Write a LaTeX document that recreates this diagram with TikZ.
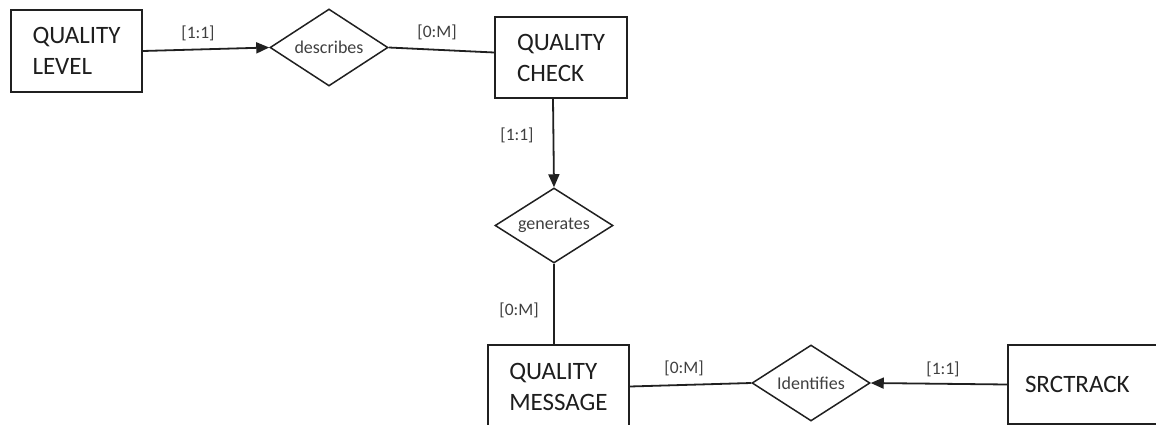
\documentclass[tikz,border=0pt]{standalone}
\usepackage{fontspec}
\setmainfont{Carlito}
\usetikzlibrary{shapes.geometric,arrows.meta}
\definecolor{entitytext}{HTML}{1E1E1E}
\definecolor{labeltext}{HTML}{404040}
\definecolor{linecol}{HTML}{202020}
\tikzset{
  entity/.style={draw=linecol, line width=1.8pt, rectangle, align=left, inner sep=0pt,
    text=entitytext, font=\fontsize{25}{31}\selectfont},
  relation/.style={draw=linecol, line width=1.5pt, diamond, aspect=1.6, inner sep=0pt,
    minimum width=118pt, minimum height=76pt, text=entitytext!85, font=\fontsize{18}{20}\selectfont},
  card/.style={text=labeltext, inner sep=0pt, font=\fontsize{17.5}{19}\selectfont},
  conn/.style={draw=linecol, line width=1.8pt},
  arr/.style={conn, -{Triangle[length=13pt,width=11pt]}}
}
\begin{document}
\begin{tikzpicture}[x=1pt,y=-1pt]
\clip (0,0) rectangle (1156,425);
\fill[white] (0,0) rectangle (1156,425);

\node (ql)  [entity, minimum width=131pt, minimum height=82pt] at (76.5,51) {QUALITY\\LEVEL};
\node (desc)[relation, minimum height=77pt] at (329,47.5) {describes};
\node (qc)  [entity, minimum width=132pt, minimum height=81pt] at (561,57.5) {QUALITY\\CHECK};
\node (gen) [relation, minimum height=75pt] at (554,225.5) {generates};
\node (qm)  [entity, minimum width=141pt, minimum height=83pt] at (558.5,386.5) {QUALITY\\MESSAGE};
\node (idf) [relation] at (811,383) {Identifies};
\node (src) [entity, text width=116pt, inner xsep=17pt, minimum height=79pt] at (1083,384.5) {SRCTRACK};

\node (l1) [card] at (198,33) {[1:1]};
\node (l2) [card] at (437,32) {[0:M]};
\node (l3) [card] at (517,135) {[1:1]};
\node (l4) [card] at (519,310) {[0:M]};
\node (l5) [card] at (684,368) {[0:M]};
\node (l6) [card] at (943,369) {[1:1]};

\draw[arr] (ql.east) -- (desc.west);
\draw[conn] (desc.east) -- ([yshift=5pt]qc.west);
\draw[arr] ([xshift=-8pt]qc.south) -- (gen.north);
\draw[conn] (gen.south) -- (gen.south |- qm.north);
\draw[conn] (qm.east) -- (idf.west);
\draw[arr] (src.west) -- (idf.east);
\end{tikzpicture}
\end{document}
